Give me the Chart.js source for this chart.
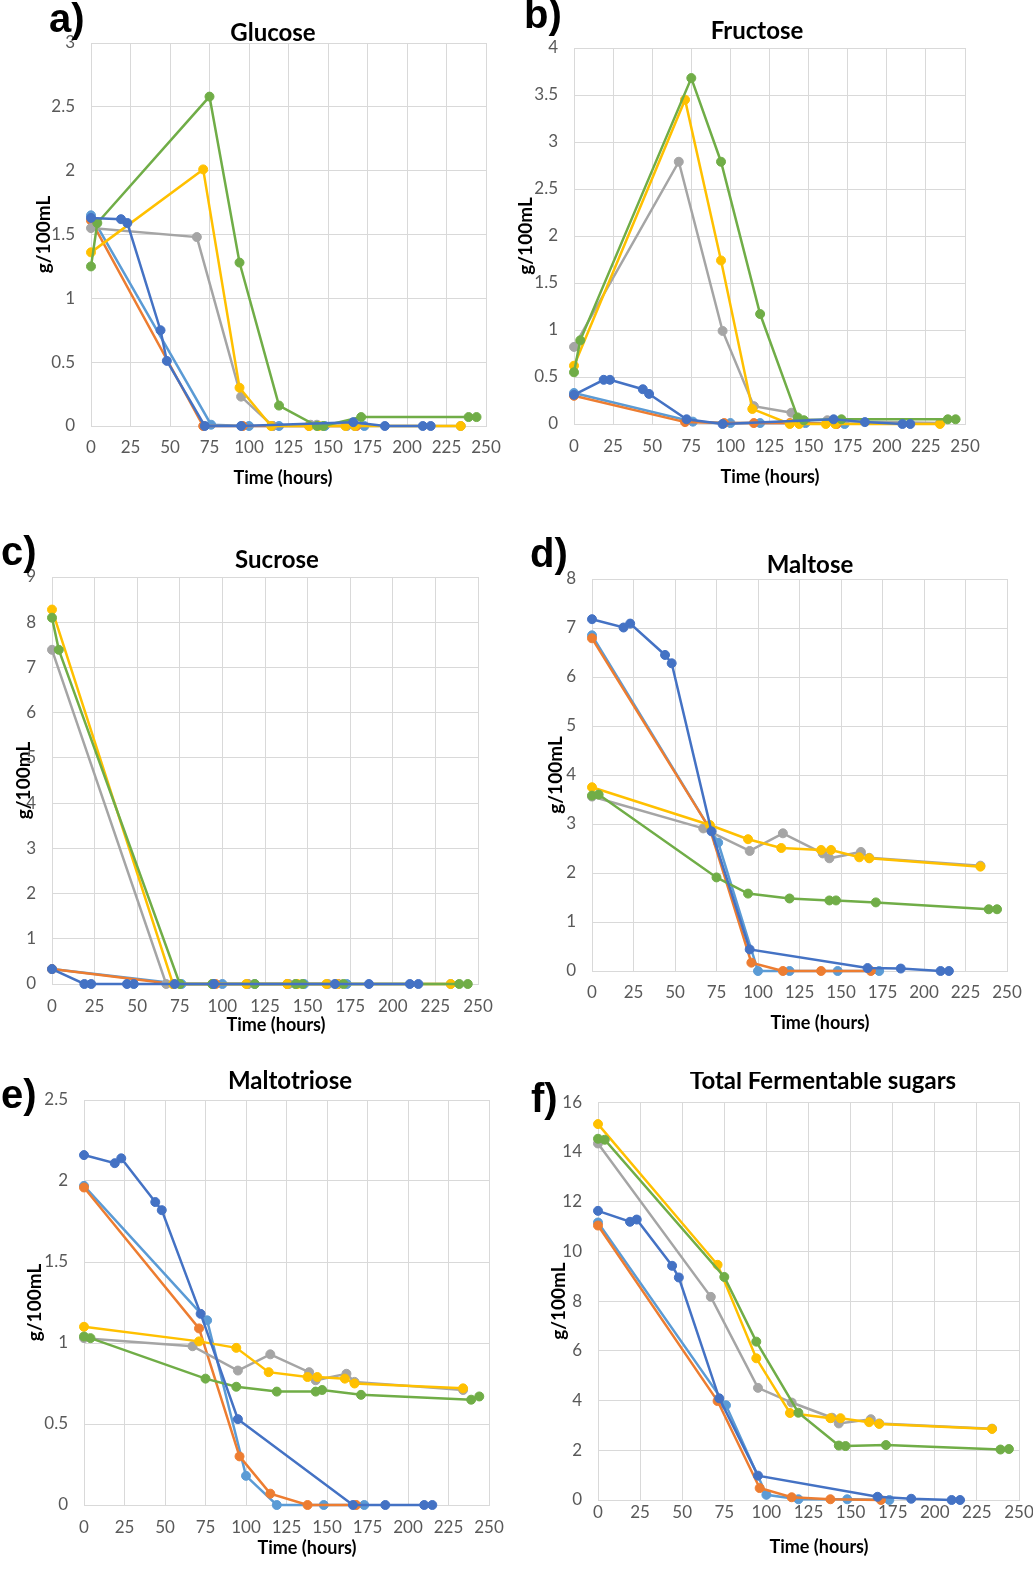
<!DOCTYPE html>
<html>
<head>
<meta charset="utf-8">
<title>Sugar consumption during fermentation</title>
<script src="https://cdn.jsdelivr.net/npm/chart.js@4.4.1/dist/chart.umd.min.js"></script>
<style>
    html, body { margin: 0; padding: 0; background: #fff; }
    body { position: relative; width: 1033px; height: 1590px; overflow: hidden; }
    canvas { position: absolute; }
    .tag {
        position: absolute;
        font: bold 40px 'Liberation Sans', Arial, sans-serif;
        line-height: 40px;
        color: #000;
        z-index: 2;
    }
</style>
</head>
<body>
<script>
// Sampling times (hours) of each fermentation run
const timeBlue = [0, 19, 23, 44, 48, 72, 95, 166, 186, 210, 215];
const timeGreen = [0, 4, 75, 94, 119, 143, 147, 171, 239, 244];
const timeYellow = [0, 71, 94, 114, 138, 144, 161, 167, 234];
const timeGray = [0, 67, 95, 115, 139, 143, 162, 167, 234];
const timeOrange = [0, 71, 96, 115, 138, 168];
const timeLightBlue = [0, 76, 100, 119, 148, 173];

// Glucose, g/100mL
const glucoseBlue = [1.63, 1.62, 1.59, 0.75, 0.51, 0, 0, 0.03, 0, 0, 0];
const glucoseGreen = [1.25, 1.59, 2.58, 1.28, 0.16, 0, 0, 0.07, 0.07, 0.07];
const glucoseYellow = [1.36, 2.01, 0.3, 0, 0, 0, 0, 0, 0];
const glucoseGray = [1.55, 1.48, 0.23, 0, 0.01, 0.01, 0, 0, 0];
const glucoseOrange = [1.61, 0, 0, 0, 0, 0];
const glucoseLightBlue = [1.65, 0.01, 0, 0, 0, 0];

// Fructose, g/100mL
const fructoseBlue = [0.31, 0.47, 0.47, 0.37, 0.32, 0.05, 0, 0.05, 0.02, 0, 0];
const fructoseGreen = [0.55, 0.89, 3.68, 2.79, 1.17, 0.07, 0.04, 0.05, 0.05, 0.05];
const fructoseYellow = [0.62, 3.45, 1.74, 0.16, 0, 0, 0, 0, 0];
const fructoseGray = [0.82, 2.79, 0.99, 0.19, 0.12, 0.05, 0.04, 0.03, 0.01];
const fructoseOrange = [0.3, 0.02, 0.01, 0.01, 0.01, 0];
const fructoseLightBlue = [0.33, 0.025, 0.01, 0.01, 0.01, 0];

// Sucrose, g/100mL
const sucroseBlue = [0.33, 0, 0, 0, 0, 0, 0, 0, 0, 0, 0];
const sucroseGreen = [8.1, 7.39, 0, 0, 0, 0, 0, 0, 0, 0];
const sucroseYellow = [8.28, 0, 0, 0, 0, 0, 0, 0, 0];
const sucroseGray = [7.39, 0, 0, 0, 0, 0, 0, 0, 0];
const sucroseOrange = [0.33, 0, 0, 0, 0, 0];
const sucroseLightBlue = [0.33, 0, 0, 0, 0, 0];

// Maltose, g/100mL
const maltoseBlue = [7.18, 7.01, 7.09, 6.45, 6.28, 2.85, 0.44, 0.06, 0.05, 0, 0];
const maltoseGreen = [3.58, 3.6, 1.91, 1.58, 1.48, 1.44, 1.44, 1.4, 1.26, 1.26];
const maltoseYellow = [3.75, 2.98, 2.69, 2.51, 2.47, 2.47, 2.32, 2.3, 2.13];
const maltoseGray = [3.56, 2.91, 2.45, 2.81, 2.4, 2.3, 2.43, 2.31, 2.15];
const maltoseOrange = [6.79, 2.9, 0.17, 0, 0, 0];
const maltoseLightBlue = [6.85, 2.62, 0, 0, 0, 0];

// Maltotriose, g/100mL
const maltotrioseBlue = [2.16, 2.11, 2.14, 1.87, 1.82, 1.18, 0.53, 0, 0, 0, 0];
const maltotrioseGreen = [1.04, 1.03, 0.78, 0.73, 0.7, 0.7, 0.71, 0.68, 0.65, 0.67];
const maltotrioseYellow = [1.1, 1.01, 0.97, 0.82, 0.79, 0.79, 0.78, 0.75, 0.72];
const maltotrioseGray = [1.03, 0.98, 0.83, 0.93, 0.82, 0.77, 0.81, 0.76, 0.71];
const maltotrioseOrange = [1.96, 1.09, 0.3, 0.07, 0, 0];
const maltotrioseLightBlue = [1.97, 1.14, 0.18, 0, 0, 0];

// Total fermentable sugars, g/100mL
const totalBlue = [11.63, 11.19, 11.28, 9.42, 8.95, 4.09, 0.98, 0.13, 0.05, 0, 0];
const totalGreen = [14.53, 14.49, 8.97, 6.37, 3.51, 2.19, 2.17, 2.21, 2.03, 2.05];
const totalYellow = [15.12, 9.46, 5.7, 3.5, 3.29, 3.29, 3.13, 3.06, 2.86];
const totalGray = [14.34, 8.17, 4.51, 3.92, 3.31, 3.08, 3.25, 3.08, 2.87];
const totalOrange = [11.04, 3.98, 0.48, 0.11, 0.03, 0];
const totalLightBlue = [11.16, 3.81, 0.21, 0.03, 0.03, 0];

// Runs are listed top-most first (Chart.js paints dataset 0 last)
const runTimes = [timeBlue, timeGreen, timeYellow, timeGray, timeOrange, timeLightBlue];
const runColors = ['#4472C4', '#70AD47', '#FFC000', '#A5A5A5', '#ED7D31', '#5B9BD5'];

const panels = [
    {
        tag: 'a)', title: 'Glucose', yMax: 3, yStep: 0.5,
        values: [glucoseBlue, glucoseGreen, glucoseYellow, glucoseGray, glucoseOrange, glucoseLightBlue],
        box: { left: 91, right: 486, top: 43, bottom: 426, titleX: 273, titleY: 33, yTitleX: 43, tickGap: 22, xTitleX: 283, xTitleY: 478, tagX: 49, tagTop: -2 },
    },
    {
        tag: 'b)', title: 'Fructose', yMax: 4, yStep: 0.5,
        values: [fructoseBlue, fructoseGreen, fructoseYellow, fructoseGray, fructoseOrange, fructoseLightBlue],
        box: { left: 574, right: 965, top: 48, bottom: 424, titleX: 757, titleY: 31, yTitleX: 525, tickGap: 23, xTitleX: 770, xTitleY: 477, tagX: 524, tagTop: -6 },
    },
    {
        tag: 'c)', title: 'Sucrose', yMax: 9, yStep: 1,
        values: [sucroseBlue, sucroseGreen, sucroseYellow, sucroseGray, sucroseOrange, sucroseLightBlue],
        box: { left: 52, right: 478, top: 577, bottom: 984, titleX: 277, titleY: 560, yTitleX: 23, tickGap: 23, xTitleX: 276, xTitleY: 1025, tagX: 1, tagTop: 531 },
    },
    {
        tag: 'd)', title: 'Maltose', yMax: 8, yStep: 1,
        values: [maltoseBlue, maltoseGreen, maltoseYellow, maltoseGray, maltoseOrange, maltoseLightBlue],
        box: { left: 592, right: 1007, top: 579, bottom: 971, titleX: 810, titleY: 565, yTitleX: 555, tickGap: 22, xTitleX: 820, xTitleY: 1023, tagX: 530, tagTop: 533 },
    },
    {
        tag: 'e)', title: 'Maltotriose', yMax: 2.5, yStep: 0.5,
        values: [maltotrioseBlue, maltotrioseGreen, maltotrioseYellow, maltotrioseGray, maltotrioseOrange, maltotrioseLightBlue],
        box: { left: 84, right: 489, top: 1100, bottom: 1505, titleX: 290, titleY: 1081, yTitleX: 34, tickGap: 23, xTitleX: 307, xTitleY: 1548, tagX: 1, tagTop: 1074 },
    },
    {
        tag: 'f)', title: 'Total Fermentable sugars', yMax: 16, yStep: 2,
        values: [totalBlue, totalGreen, totalYellow, totalGray, totalOrange, totalLightBlue],
        box: { left: 598, right: 1019, top: 1102, bottom: 1500, titleX: 823, titleY: 1081, yTitleX: 558, tickGap: 13, xTitleX: 819, xTitleY: 1547, tagX: 531, tagTop: 1078 },
    },
];

Chart.defaults.font.family = "Lato, 'Open Sans', sans-serif";
Chart.defaults.color = '#595959';

const gridColor = '#d9d9d9';
const tickSize = 17;
const titleSize = 24;
const titleLine = 0.6;
const yTitleSize = 19;

const toPoints = (times, values) => times.map((t, i) => ({ x: t, y: values[i] }));

// Moves the chart title and the x axis title sideways by a set amount
const titleShift = {
    id: 'titleShift',
    afterLayout(chart, args, opts) {
        const block = chart.titleBlock;
        if (block && !block.$shifted) {
            block.left += opts.title;
            block.right += opts.title;
            block.$shifted = true;
        }
        const scale = chart.scales.x;
        if (!scale.$shifted) {
            const drawTitle = scale.drawTitle;
            scale.drawTitle = function () {
                this.left += opts.axis;
                this.right += opts.axis;
                drawTitle.call(this);
                this.left -= opts.axis;
                this.right -= opts.axis;
            };
            scale.$shifted = true;
        }
    },
};

const drawPanel = (panel) => {
    const b = panel.box;
    const titleLineHeight = titleSize * titleLine;
    const titleHalf = titleLineHeight / 2;

    // the title block must be taller than the y axis top padding (label + tick padding)
    const padBottom = b.top - b.titleY - titleHalf;
    const padTop = Math.max(2, 30 - titleLineHeight - padBottom);

    // canvas is sized so the plot area lands on the box edges
    const left = Math.round(b.yTitleX - (yTitleSize * 1.2) / 2 - 1);
    const top = b.titleY - titleHalf - padTop;
    const padRight = 30;
    const width = b.right - left + padRight;
    const axisHeight = Math.round(b.xTitleY + 12.8 - b.bottom);
    const height = Math.round(b.bottom + axisHeight - top);
    const axisWidth = b.left - left;

    const canvas = document.createElement('canvas');
    canvas.width = width;
    canvas.height = height;
    canvas.style.left = left + 'px';
    canvas.style.top = top + 'px';
    canvas.style.width = width + 'px';
    canvas.style.height = height + 'px';
    document.body.appendChild(canvas);

    const tag = document.createElement('div');
    tag.className = 'tag';
    tag.textContent = panel.tag;
    tag.style.left = b.tagX + 'px';
    tag.style.top = b.tagTop + 'px';
    document.body.appendChild(tag);

    const datasets = panel.values.map((values, i) => ({
        data: toPoints(runTimes[i], values),
        borderColor: runColors[i],
        backgroundColor: runColors[i],
        pointBackgroundColor: runColors[i],
        pointBorderColor: runColors[i],
        borderWidth: 2.5,
        pointRadius: 4.5,
        pointBorderWidth: 1,
        showLine: true,
        tension: 0,
        clip: false,
    }));

    new Chart(canvas, {
        type: 'scatter',
        data: { datasets },
        plugins: [titleShift],
        options: {
            responsive: false,
            animation: false,
            devicePixelRatio: 1,
            layout: { padding: { left: 0, top: 0, bottom: 0, right: padRight } },
            plugins: {
                legend: { display: false },
                tooltip: { enabled: false },
                title: {
                    display: true,
                    text: panel.title,
                    color: '#000',
                    font: { size: titleSize, weight: 'bold', lineHeight: titleLine },
                    padding: { top: padTop, bottom: padBottom },
                },
                titleShift: {
                    title: b.titleX - (left + b.right) / 2,
                    axis: b.xTitleX - (b.left + b.right) / 2,
                },
            },
            scales: {
                x: {
                    type: 'linear',
                    min: 0,
                    max: 250,
                    ticks: {
                        stepSize: 25,
                        padding: b.tickGap - (tickSize * 1.2) / 2,
                        font: { size: tickSize },
                        color: '#595959',
                        maxRotation: 0,
                        callback: (v) => String(v),
                    },
                    grid: { color: gridColor, drawTicks: false },
                    border: { color: gridColor },
                    title: {
                        display: true,
                        text: 'Time (hours)',
                        color: '#000',
                        font: { size: 18, weight: 'bold' },
                        padding: { top: 0, bottom: 2 },
                    },
                    afterFit: (scale) => { scale.height = axisHeight; },
                },
                y: {
                    type: 'linear',
                    min: 0,
                    max: panel.yMax,
                    ticks: {
                        stepSize: panel.yStep,
                        padding: 16,
                        font: { size: tickSize },
                        color: '#595959',
                        callback: (v) => String(v),
                    },
                    grid: { color: gridColor, drawTicks: false },
                    border: { color: gridColor },
                    title: {
                        display: true,
                        text: 'g/100mL',
                        color: '#000',
                        font: { size: yTitleSize, weight: 'bold' },
                        padding: { top: 1, bottom: 0 },
                    },
                    afterFit: (scale) => { scale.width = axisWidth; },
                },
            },
        },
    });
};

panels.forEach(drawPanel);
</script>
</body>
</html>
